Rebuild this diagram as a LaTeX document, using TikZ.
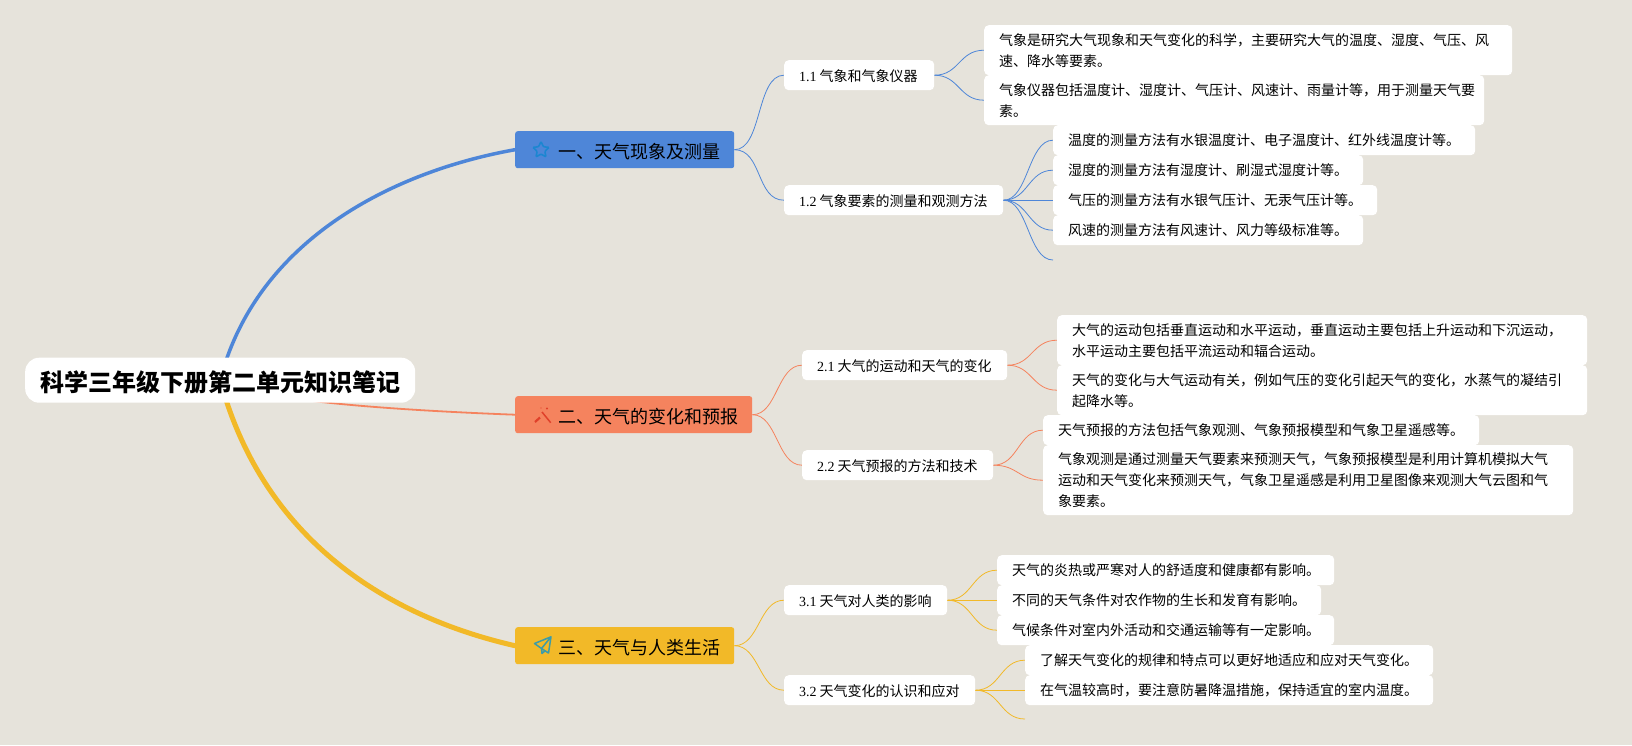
\documentclass[tikz,border=0pt]{standalone}
\usepackage{fontspec}
\setmainfont{Noto Sans CJK SC}
\newfontfamily\numfont{Liberation Serif}
\usetikzlibrary{backgrounds,shapes.geometric}
\definecolor{bgc}{HTML}{E6E3DB}
\definecolor{bluec}{HTML}{4E86D8}
\definecolor{orangec}{HTML}{F5835E}
\definecolor{yellowc}{HTML}{F2B928}
\definecolor{staric}{HTML}{1C86D1}
\definecolor{wandic}{HTML}{E0402A}
\definecolor{planeic}{HTML}{3C9CA8}
\newcommand{\lowtxt}[2]{\raisebox{-#1}[\height][\depth]{#2}}
\newcommand{\subtxt}[2]{\lowtxt{1pt}{\mbox{{\numfont #1}\hspace{3pt}#2}}}
\tikzset{
  x=1pt,y=-1pt,
  box/.style n args={2}{anchor=north west,inner xsep=#2,inner ysep=0pt,
    text width=#1-2*#2,align=left,minimum width=#1},
  rootbox/.style={box={390pt}{15pt},minimum height=45pt,fill=white,rounded corners=14pt,
    font=\fontsize{24}{28}\selectfont\bfseries},
  mainbox/.style={box={#1}{43pt},minimum height=37pt,rounded corners=2.5pt,
    font=\fontsize{18}{22}\selectfont},
  subbox/.style={box={#1}{15pt},minimum height=30pt,fill=white,rounded corners=4.5pt,
    font=\fontsize{14}{21}\selectfont},
  leafbox/.style={subbox=#1,inner xsep=14.5pt},
  thickline/.style={line width=#1,line cap=round},
  bline/.style={draw=bluec,line width=.8pt},
  oline/.style={draw=orangec,line width=.8pt},
  yline/.style={draw=yellowc,line width=.8pt},
}
\begin{document}
\begin{tikzpicture}
\useasboundingbox (0,0) rectangle (1632,745);
\begin{scope}[on background layer]
  \fill[bgc] (0,0) rectangle (1632,745);
\end{scope}
% root
\node[rootbox] (root) at (25,357.5) {\lowtxt{2pt}{科学三年级下册第二单元知识笔记}};
% main topics
\node[mainbox=219pt,fill=bluec] (m1) at (515,131) {\lowtxt{2pt}{一、天气现象及测量}};
\node[mainbox=237pt,fill=orangec] (m2) at (515,396) {\lowtxt{2pt}{二、天气的变化和预报}};
\node[mainbox=219pt,fill=yellowc] (m3) at (515,627) {\lowtxt{2pt}{三、天气与人类生活}};
% subs
\node[subbox=150pt] (s11) at (784,60) {\subtxt{1.1}{气象和气象仪器}};
\node[subbox=219pt] (s12) at (784,185) {\subtxt{1.2}{气象要素的测量和观测方法}};
\node[subbox=205pt] (s21) at (802,350) {\subtxt{2.1}{大气的运动和天气的变化}};
\node[subbox=191pt] (s22) at (802,450) {\subtxt{2.2}{天气预报的方法和技术}};
\node[subbox=163pt] (s31) at (784,585) {\subtxt{3.1}{天气对人类的影响}};
\node[subbox=191pt] (s32) at (784,675) {\subtxt{3.2}{天气变化的认识和应对}};
% leaves
\node[leafbox=528pt,minimum height=50pt] (a1) at (984,25) {气象是研究大气现象和天气变化的科学，主要研究大气的温度、湿度、气压、风\\速、降水等要素。};
\node[leafbox=500pt,minimum height=50pt] (a2) at (984,75) {气象仪器包括温度计、湿度计、气压计、风速计、雨量计等，用于测量天气要\\素。};
\node[leafbox=422pt] (b1) at (1053,125) {温度的测量方法有水银温度计、电子温度计、红外线温度计等。};
\node[leafbox=310pt] (b2) at (1053,155) {湿度的测量方法有湿度计、刷湿式湿度计等。};
\node[leafbox=324pt] (b3) at (1053,185) {气压的测量方法有水银气压计、无汞气压计等。};
\node[leafbox=310pt] (b4) at (1053,215) {风速的测量方法有风速计、风力等级标准等。};
\coordinate (b5) at (1053,260);
\node[leafbox=530pt,minimum height=50pt] (c1) at (1057,315) {大气的运动包括垂直运动和水平运动，垂直运动主要包括上升运动和下沉运动，\\水平运动主要包括平流运动和辐合运动。};
\node[leafbox=530pt,minimum height=50pt] (c2) at (1057,365) {天气的变化与大气运动有关，例如气压的变化引起天气的变化，水蒸气的凝结引\\起降水等。};
\node[leafbox=436pt] (d1) at (1043,415) {天气预报的方法包括气象观测、气象预报模型和气象卫星遥感等。};
\node[leafbox=530pt,minimum height=70pt] (d2) at (1043,445) {气象观测是通过测量天气要素来预测天气，气象预报模型是利用计算机模拟大气\\运动和天气变化来预测天气，气象卫星遥感是利用卫星图像来观测大气云图和气\\象要素。};
\node[leafbox=337pt] (e1) at (997,555) {天气的炎热或严寒对人的舒适度和健康都有影响。};
\node[leafbox=324pt] (e2) at (997,585) {不同的天气条件对农作物的生长和发育有影响。};
\node[leafbox=337pt] (e3) at (997,615) {气候条件对室内外活动和交通运输等有一定影响。};
\node[leafbox=408pt] (f1) at (1025,645) {了解天气变化的规律和特点可以更好地适应和应对天气变化。};
\node[leafbox=408pt] (f2) at (1025,675) {在气温较高时，要注意防暑降温措施，保持适宜的室内温度。};
\coordinate (f3) at (1025,719);
% connectors
\begin{scope}[on background layer]
  \draw[bluec,thickline=3.5pt] (root.center) .. controls (255,245) and (385,173) .. (m1.west);
  \draw[orangec,thickline=1.8pt] (root.center) .. controls (250,400) and (390,410) .. (m2.west);
  \draw[yellowc,thickline=5pt] (root.center) .. controls (260,528) and (372,613) .. (m3.west);
  \foreach \p/\c in {m1/s11,m1/s12}
    \draw[bline] (\p.east) .. controls +(28,0) and +(-28,0) .. (\c.west);
  \foreach \p/\c in {s11/a1,s11/a2,s12/b1,s12/b2,s12/b3,s12/b4}
    \draw[bline] (\p.east) .. controls +(25,0) and +(-25,0) .. (\c.west);
  \draw[bline] (s12.east) .. controls +(25,0) and +(-25,0) .. (b5);
  \foreach \p/\c in {m2/s21,m2/s22,s21/c1,s21/c2,s22/d1,s22/d2}
    \draw[oline] (\p.east) .. controls +(25,0) and +(-25,0) .. (\c.west);
  \foreach \p/\c in {m3/s31,m3/s32,s31/e1,s31/e2,s31/e3,s32/f1,s32/f2}
    \draw[yline] (\p.east) .. controls +(25,0) and +(-25,0) .. (\c.west);
  \draw[yline] (s32.east) .. controls +(25,0) and +(-25,0) .. (f3);
\end{scope}
% icons
\node[star,star points=5,star point ratio=2.1,draw=staric,line width=1.6pt,minimum size=17pt,inner sep=0pt,rounded corners=1pt] (ico1) at (541,150) {};
\draw[wandic,line width=1.5pt] (542,412) -- (550.7,422.7);
\draw[wandic,line width=2.2pt] (535,422) -- (540,417.5);
\fill[wandic] (547,408.5) circle (1.1);
\fill[wandic] (541,408) circle (0.7);
\draw[planeic,line width=1.5pt,line join=round] (534.5,643.5) -- (551,636.8) -- (548.5,653) -- (541.5,648.5) -- cycle
  (551,636.8) -- (541.5,648.5) -- (542,653.5) -- (545,650.8);
\end{tikzpicture}
\end{document}
